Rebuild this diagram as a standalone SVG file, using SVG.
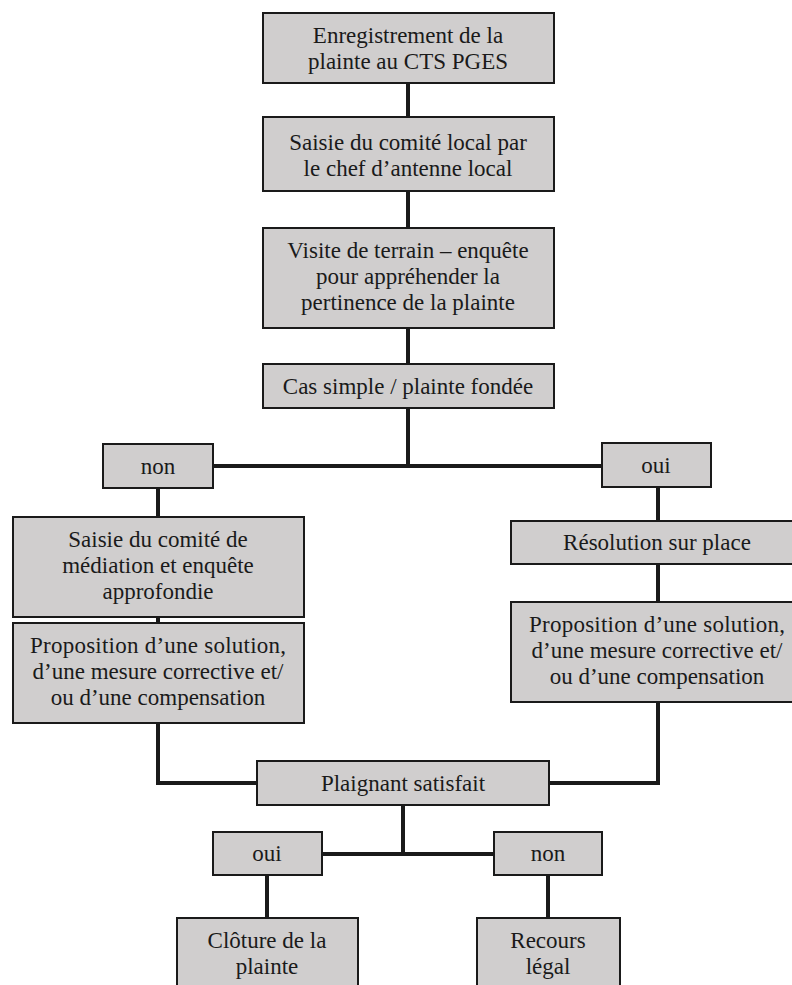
<svg xmlns="http://www.w3.org/2000/svg" width="792" height="985" viewBox="0 0 792 985">
<rect width="792" height="985" fill="#ffffff"/>
<g id="connectors" fill="none" stroke="#1a1a1a" stroke-width="4">
<line x1="408" y1="83" x2="408" y2="117"/>
<line x1="408" y1="191" x2="408" y2="228"/>
<line x1="408" y1="328" x2="408" y2="364"/>
<line x1="408" y1="408" x2="408" y2="466"/>
<line x1="213" y1="466" x2="602" y2="466"/>
<line x1="158" y1="488" x2="158" y2="517"/>
<line x1="158" y1="617" x2="158" y2="623"/>
<line x1="658" y1="487" x2="658" y2="521"/>
<line x1="658" y1="564" x2="658" y2="602"/>
<polyline points="158,723 158,783 257,783"/>
<polyline points="658,702 658,783 549,783"/>
<line x1="403" y1="805" x2="403" y2="854"/>
<line x1="322" y1="854" x2="494" y2="854"/>
<line x1="267" y1="875" x2="267" y2="918"/>
<line x1="548" y1="875" x2="548" y2="918"/>
</g>
<g id="nodes">
<g fill="#d0cece" stroke="#1a1a1a" stroke-width="2">
<rect id="r-n1" x="263" y="13" width="291" height="70"/>
<rect id="r-n2" x="263" y="117" width="291" height="74"/>
<rect id="r-n3" x="263" y="228" width="291" height="100"/>
<rect id="r-n4" x="263" y="364" width="291" height="44"/>
<rect id="r-non1" x="103" y="444" width="110" height="44"/>
<rect id="r-oui1" x="602" y="443" width="109" height="44"/>
<rect id="r-l1" x="13" y="517" width="291" height="100"/>
<rect id="r-l2" x="13" y="623" width="291" height="100"/>
<rect id="r-r1" x="511" y="521" width="293" height="43"/>
<rect id="r-r2" x="511" y="602" width="293" height="100"/>
<rect id="r-ps" x="257" y="761" width="292" height="44"/>
<rect id="r-oui2" x="213" y="832" width="109" height="43"/>
<rect id="r-non2" x="494" y="832" width="108" height="43"/>
<rect id="r-clo" x="177" y="918" width="181" height="80"/>
<rect id="r-rec" x="477" y="918" width="143" height="80"/>
</g>
<g font-family="Liberation Serif" font-size="23" fill="#1a1a1a" text-anchor="middle">
<g id="n1"><text x="408" y="43">Enregistrement de la</text><text x="408" y="69">plainte au CTS PGES</text></g>
<g id="n2"><text x="408" y="150">Saisie du comité local par</text><text x="408" y="176">le chef d’antenne local</text></g>
<g id="n3"><text x="408" y="258">Visite de terrain – enquête</text><text x="408" y="284">pour appréhender la</text><text x="408" y="310">pertinence de la plainte</text></g>
<g id="n4"><text x="408" y="394">Cas simple / plainte fondée</text></g>
<g id="non1"><text x="158" y="474">non</text></g>
<g id="oui1"><text x="656" y="473">oui</text></g>
<g id="l1"><text x="158" y="547">Saisie du comité de</text><text x="158" y="573">médiation et enquête</text><text x="158" y="599">approfondie</text></g>
<g id="l2"><text x="158" y="653" textLength="256" lengthAdjust="spacing">Proposition d’une solution,</text><text x="158" y="679">d’une mesure corrective et/</text><text x="158" y="705">ou d’une compensation</text></g>
<g id="r1"><text x="657" y="550">Résolution sur place</text></g>
<g id="r2"><text x="657" y="632" textLength="256" lengthAdjust="spacing">Proposition d’une solution,</text><text x="657" y="658">d’une mesure corrective et/</text><text x="657" y="684">ou d’une compensation</text></g>
<g id="ps"><text x="403" y="791">Plaignant satisfait</text></g>
<g id="oui2"><text x="267" y="861">oui</text></g>
<g id="non2"><text x="548" y="861">non</text></g>
<g id="clo"><text x="267" y="948">Clôture de la</text><text x="267" y="974">plainte</text></g>
<g id="rec"><text x="548" y="948">Recours</text><text x="548" y="974">légal</text></g>
</g>
</g>
</svg>
